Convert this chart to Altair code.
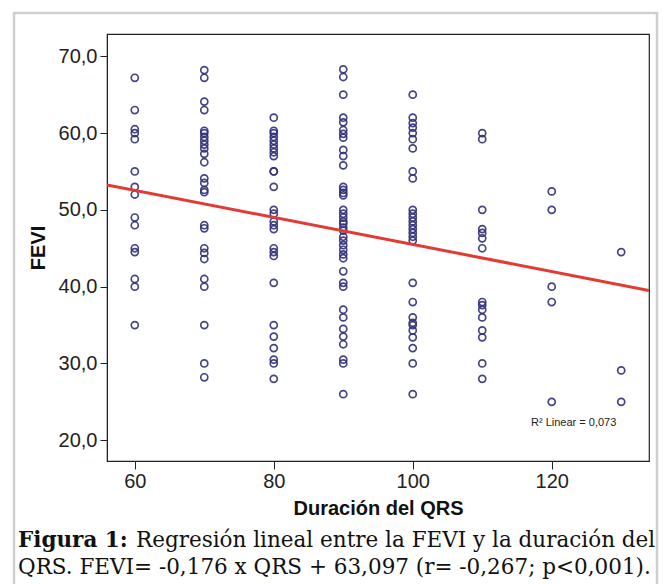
import altair as alt
import pandas as pd

# ---- data ----
qrs_levels = [60, 70, 80, 90, 100, 110, 120, 130]
fevi_60 = [67.2, 63.0, 60.5, 60.0, 59.2, 55.0, 53.0, 52.0, 49.0, 48.0, 45.0, 44.5, 41.0, 40.0, 35.0]
fevi_70 = [68.2, 67.2, 64.1, 63.0, 60.3, 60.0, 59.5, 59.0, 58.5, 58.0, 57.3, 56.2, 54.1, 53.5,
           52.6, 52.3, 48.0, 47.6, 45.0, 44.4, 43.6, 41.0, 40.0, 35.0, 30.0, 28.2]
fevi_80 = [62.0, 60.3, 60.0, 59.5, 59.0, 58.5, 58.0, 57.5, 57.0, 55.0, 55.0, 53.0, 50.0, 49.5,
           48.5, 48.0, 47.5, 45.0, 44.5, 44.0, 40.5, 35.0, 33.5, 32.0, 30.5, 30.0, 28.0]
fevi_90 = [68.3, 67.3, 65.0, 62.0, 61.4, 60.4, 59.9, 59.4, 57.8, 57.0, 55.8, 53.0, 52.6, 52.2,
           51.9, 50.0, 49.5, 49.0, 48.5, 48.2, 47.7, 47.3, 46.5, 46.0, 45.4, 44.8, 44.2, 43.7,
           42.0, 40.5, 40.0, 37.0, 36.0, 34.5, 33.5, 32.5, 30.5, 30.0, 26.0]
fevi_100 = [65.0, 62.0, 61.3, 60.7, 60.0, 59.2, 58.0, 55.0, 54.1, 50.0, 49.5, 49.0, 48.5, 48.0,
            47.5, 47.0, 46.5, 46.0, 40.5, 38.0, 36.0, 35.3, 35.0, 34.3, 33.4, 32.0, 30.0, 26.0]
fevi_110 = [60.0, 59.2, 50.0, 47.5, 47.0, 46.3, 45.0, 38.0, 37.6, 37.0, 36.0, 34.3, 33.4, 30.0, 28.0]
fevi_120 = [52.4, 50.0, 40.0, 38.0, 25.0]
fevi_130 = [44.5, 29.1, 25.0]

# regression from the caption
slope = -0.176
intercept = 63.097

x_ticks = [60, 80, 100, 120]
y_ticks = [20, 30, 40, 50, 60, 70]
x_domain = [56, 134]
y_domain = [17.3, 72.9]

x_title = "Duración del QRS"
y_title = "FEVI"
r2_label = ["R² Linear = 0,073"]
caption_bold = ["Figura 1:"]
caption_line1 = ["Regresión lineal entre la FEVI y la duración del"]
caption_line2 = ["QRS. FEVI= -0,176 x QRS + 63,097 (r= -0,267; p<0,001)."]

# ---- tables ----
rows = []
for q, vals in zip(qrs_levels, [fevi_60, fevi_70, fevi_80, fevi_90, fevi_100,
                               fevi_110, fevi_120, fevi_130]):
    for v in vals:
        rows.append({"QRS": q, "FEVI": v})
df = pd.DataFrame(rows)
line_df = pd.DataFrame({"QRS": x_domain,
                        "FEVI": [intercept + slope * x for x in x_domain]})

x_scale = alt.Scale(domain=x_domain, nice=False, zero=False)
y_scale = alt.Scale(domain=y_domain, nice=False, zero=False)

AX_FONT = "Liberation Sans"
CAP_FONT = "DejaVu Serif"
CAP_SIZE = 21.5

x_axis = alt.Axis(values=x_ticks, format="d", title=x_title, grid=False,
                  tickSize=8, tickColor="#222", domainColor="#222",
                  labelFont=AX_FONT, labelFontSize=20, labelColor="#222",
                  labelPadding=2, titleFont=AX_FONT, titleFontSize=20,
                  titleFontWeight="bold", titleColor="#111", titlePadding=7)
y_axis = alt.Axis(values=y_ticks, title=y_title, grid=False,
                  labelExpr="replace(format(datum.value, '.1f'), '.', ',')",
                  tickSize=7, tickColor="#222", domainColor="#222",
                  labelFont=AX_FONT, labelFontSize=20, labelColor="#222",
                  labelPadding=3, titleFont=AX_FONT, titleFontSize=20,
                  titleFontWeight="bold", titleColor="#111", titlePadding=10)

points = alt.Chart(df).mark_point(
    shape="circle", filled=False, size=50, strokeWidth=1.7,
    color="#30307a", opacity=0.9
).encode(
    x=alt.X("QRS:Q", scale=x_scale, axis=x_axis),
    y=alt.Y("FEVI:Q", scale=y_scale, axis=y_axis),
)

line = alt.Chart(line_df).mark_line(color="#e23b34", strokeWidth=3, clip=True).encode(
    x=alt.X("QRS:Q", scale=x_scale),
    y=alt.Y("FEVI:Q", scale=y_scale),
)

one = pd.DataFrame({"k": [0]})
frame = alt.Chart(one).mark_rect(fill=None, stroke="#cfcfcf", strokeWidth=2.5).encode(
    x=alt.value(-93), x2=alt.value(550), y=alt.value(-21), y2=alt.value(570)
)

r2 = alt.Chart(pd.DataFrame({"t": r2_label})).mark_text(
    font=AX_FONT, fontSize=11, color="#222", align="left", baseline="middle"
).encode(text="t:N", x=alt.value(424), y=alt.value(389))

cap_b = alt.Chart(pd.DataFrame({"t": caption_bold})).mark_text(
    font=CAP_FONT, fontSize=CAP_SIZE, fontWeight="bold", color="#111",
    align="left", baseline="middle"
).encode(text="t:N", x=alt.value(-89), y=alt.value(507))

cap_1 = alt.Chart(pd.DataFrame({"t": caption_line1})).mark_text(
    font=CAP_FONT, fontSize=CAP_SIZE, color="#111", align="left", baseline="middle"
).encode(text="t:N", x=alt.value(29), y=alt.value(507))

cap_2 = alt.Chart(pd.DataFrame({"t": caption_line2})).mark_text(
    font=CAP_FONT, fontSize=CAP_SIZE, color="#111", align="left", baseline="middle"
).encode(text="t:N", x=alt.value(-89), y=alt.value(534))

chart = alt.layer(frame, points, line, r2, cap_b, cap_1, cap_2).properties(
    width=542, height=427,
    padding={"left": 99, "top": 26, "right": 13, "bottom": 123},
    autosize=alt.AutoSizeParams(type="none"),
    background="white",
).configure_view(stroke="#222", strokeWidth=1.2)

chart.save("out.html", embed_options={"renderer": "svg", "actions": False})
